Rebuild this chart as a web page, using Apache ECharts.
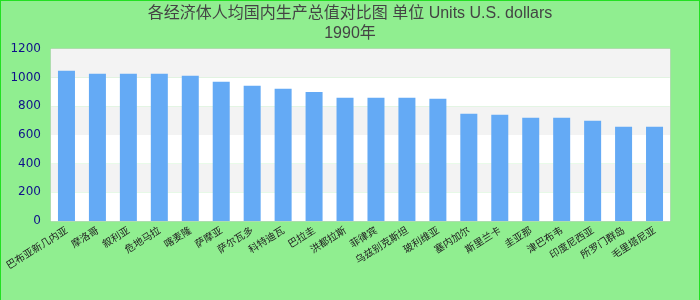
<!DOCTYPE html>
<html>
<head>
<meta charset="utf-8">
<script src="https://cdn.jsdelivr.net/npm/echarts@6/dist/echarts.min.js"></script>
<style>
html,body{margin:0;padding:0;overflow:hidden;background:#90ee90;}
#c{width:698px;height:300px;border:1px solid #22e022;}
</style>
</head>
<body>
<div id="c"></div>
<script>
const titleLines = ['各经济体人均国内生产总值对比图 单位 Units U.S. dollars', '1990年'];
const categories = ['巴布亚新几内亚','摩洛哥','叙利亚','危地马拉','喀麦隆','萨摩亚','萨尔瓦多','科特迪瓦','巴拉圭','洪都拉斯','菲律宾','乌兹别克斯坦','玻利维亚','塞内加尔','斯里兰卡','圭亚那','津巴布韦','印度尼西亚','所罗门群岛','毛里塔尼亚'];
const values = [1048,1028,1028,1027,1013,972,943,922,900,860,860,860,853,748,742,720,720,700,658,658];
const yTicks = {min:0, max:1200, interval:200};

const chart = echarts.init(document.getElementById('c'), null, {renderer:'canvas'});
chart.setOption({
  backgroundColor:'#90ee90',
  animation:false,
  title:{
    text: titleLines.join('\n'),
    left:'center', top:-2,
    textStyle:{fontFamily:'Liberation Sans, Arial, Noto Sans CJK SC, sans-serif', fontSize:16, fontWeight:'normal', color:'#444', lineHeight:20}
  },
  grid:{left:50, right:29, top:48, bottom:80, show:true, borderColor:'#ccc', borderWidth:1, backgroundColor:'transparent', containLabel:false, outerBoundsMode:'none'},
  xAxis:{
    type:'category', data:categories,
    axisLine:{show:false}, axisTick:{show:false},
    axisLabel:{interval:0, rotate:32, fontSize:10, color:'#222', margin:8, fontFamily:'Noto Sans CJK SC, sans-serif'}
  },
  yAxis:{
    type:'value', min:yTicks.min, max:yTicks.max, interval:yTicks.interval,
    axisLine:{show:false}, axisTick:{show:false},
    splitLine:{show:false},
    splitArea:{show:true, areaStyle:{color:['#ffffff','#f3f3f3']}},
    axisLabel:{fontSize:12, color:'#10108a', margin:10, fontFamily:'DejaVu Sans, sans-serif', formatter:function(v){return String(v);}}
  },
  series:[{type:'bar', data:values, barWidth:17, itemStyle:{color:'#64aaf5'}}]
});
</script>
</body>
</html>
